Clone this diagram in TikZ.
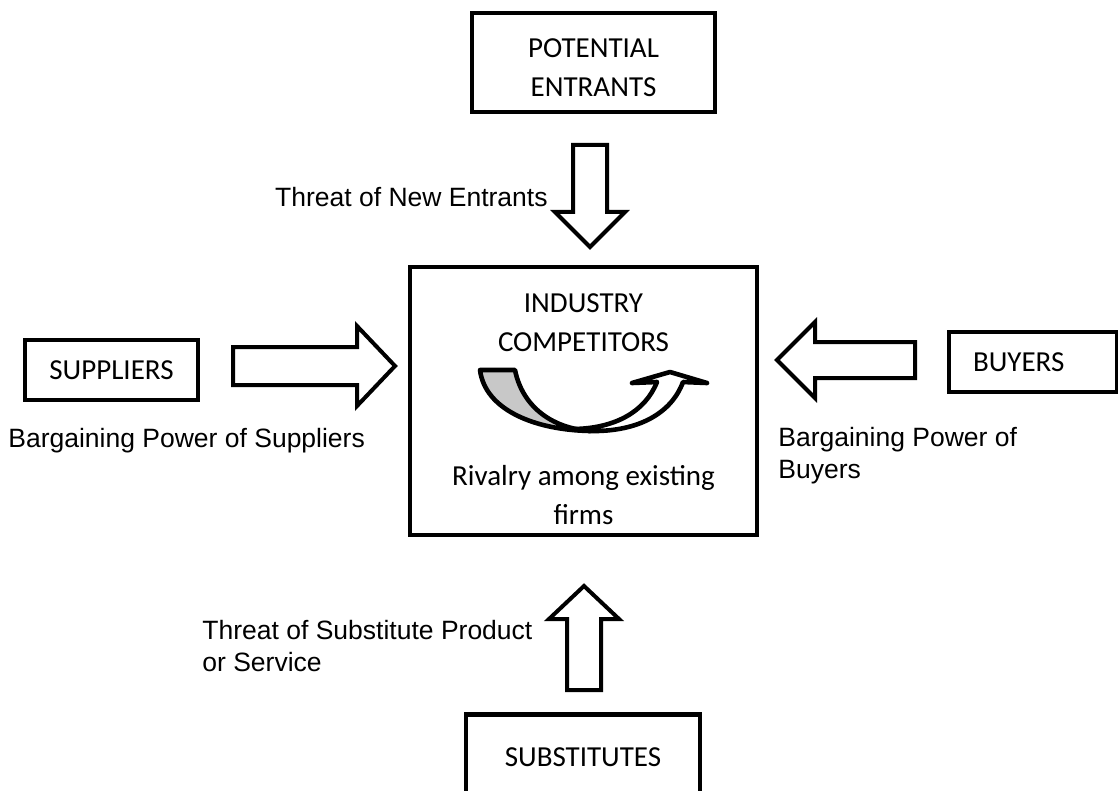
\documentclass[tikz,border=0pt]{standalone}
\usepackage{fontspec}
\setmainfont{Liberation Sans}
\newfontfamily\boxfont{Carlito}
\usetikzlibrary{calc, positioning}
\definecolor{ribbonGray}{RGB}{200,200,200}
\tikzset{
    forceBox/.style={rectangle, draw, line width=2.2pt, font=\boxfont\fontsize{14.5}{20}\selectfont, align=center, inner sep=0pt},
    boxText/.style={font=\boxfont\fontsize{14.5}{19.5}\selectfont, align=center, inner sep=0pt},
    forceLabel/.style={font=\fontsize{13.25}{16}\selectfont, align=left, inner sep=0pt},
    blockArrow/.style={draw, line width=2pt, fill=white, line join=miter},
    ribbon/.style={draw, line width=2.3pt, line join=round, line cap=round},
}
\newcommand{\drawBlock}[5]{
    \coordinate (hb) at ($(#2)!#5!(#1)$);
    \draw[blockArrow] ($(#1)!#3!-90:(#2)$) -- ($(hb)!#3!90:(#1)$) -- ($(hb)!#4!90:(#1)$) -- (#2) -- ($(hb)!#4!-90:(#1)$) -- ($(hb)!#3!-90:(#1)$) -- ($(#1)!#3!90:(#2)$) -- cycle;
}

\begin{document}
\begin{tikzpicture}[x=0.5pt, y=-0.5pt]
        \useasboundingbox (0,0) rectangle (1118,791);

        \node[forceBox, minimum width=121.5pt, minimum height=49.5pt] (entrants) at (593.5,62.5) {};
        \node[boxText] (entTxt) at (593.5,68) {POTENTIAL\\ENTRANTS};
        \node[forceBox, minimum width=173.5pt, minimum height=134pt] (industry) at (583.5,401) {};
        \node[boxText] (indTxt) at (583.5,322.5) {INDUSTRY\\COMPETITORS};
        \node[boxText] (rivTxt) at (583.5,495) {Rivalry among existing\\firms};
        \node[forceBox, minimum width=86.5pt, minimum height=30pt] (suppliers) at (111.5,370) {SUPPLIERS};
        \node[forceBox, minimum width=84pt, minimum height=30pt, text width=60pt, inner xsep=12pt, align=left] (buyers) at (1033,362) {BUYERS};
        \node[forceBox, minimum width=117pt, minimum height=43pt] (substitutes) at (583,757.5) {SUBSTITUTES};

        \coordinate (entTail) at (590,145);
        \coordinate (entTip) at (590,247);
        \coordinate (supTail) at (233,366);
        \coordinate (supTip) at (395,366);
        \coordinate (buyTail) at (915,360);
        \coordinate (buyTip) at (777,360);
        \coordinate (subTail) at (584,690);
        \coordinate (subTip) at (584,586);

        \drawBlock{entTail}{entTip}{8.5pt}{17.5pt}{17.5pt}
        \drawBlock{supTail}{supTip}{9.5pt}{20pt}{19pt}
        \drawBlock{buyTail}{buyTip}{9pt}{19pt}{19pt}
        \drawBlock{subTail}{subTip}{8.5pt}{17.5pt}{16.5pt}

        \node[forceLabel, anchor=east] (entLbl) at (548,197) {Threat of New Entrants};
        \node[forceLabel, anchor=west] (supLbl) at (8,441) {Bargaining Power of Suppliers};
        \node[forceLabel, anchor=west] (buyLbl) at (778,456) {Bargaining Power of\\Buyers};
        \node[forceLabel, anchor=west] (subLbl) at (202,646) {Threat of Substitute Product\\or Service};

        % rivalry ribbon
        \draw[ribbon, fill=ribbonGray] (480,370) -- (515,370) .. controls (522,405) and (550,428) .. (590,431) .. controls (535,430) and (485,410) .. (480,370) -- cycle;
        \draw[ribbon, fill=white] (657,382) .. controls (645,412) and (615,428) .. (575,429) -- (590,431) .. controls (640,432) and (672,412) .. (683,382) -- (707,383) -- (670,372) -- (632,383) -- cycle;

    \end{tikzpicture}
\end{document}
